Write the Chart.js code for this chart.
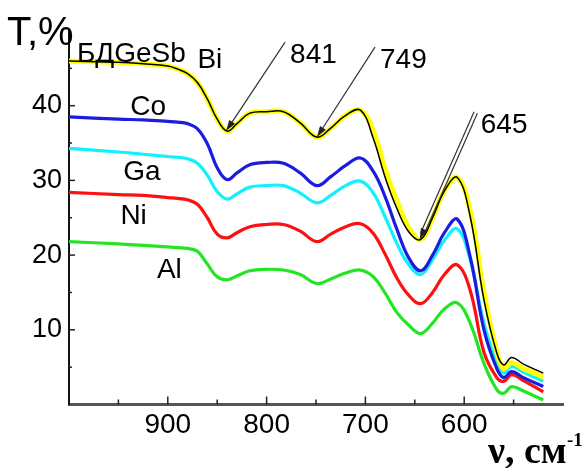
<!DOCTYPE html>
<html>
<head>
<meta charset="utf-8">
<script src="https://cdn.jsdelivr.net/npm/chart.js@4"></script>
<style>
  body { margin: 0; background: #fff; }
  #ir { display: block; }
</style>
</head>
<body>
<canvas id="ir" width="585" height="468"></canvas>
<script>
// IR spectra, transmission vs wavenumber
const wavenumbers = [1000, 950, 925, 900, 890, 880, 870, 860, 850, 840, 830, 817, 800, 783, 766, 749, 735, 720, 705, 692, 680, 668, 656, 644, 632, 620, 607, 594, 580, 567, 560, 552, 540, 520];

const bdgesb = [46.0, 45.8, 45.6, 45.3, 44.9, 44.3, 43.1, 40.9, 38.2, 36.6, 37.6, 39.0, 39.2, 39.2, 37.7, 35.8, 37.0, 38.7, 39.4, 35.6, 30.4, 26.2, 23.1, 22.1, 25.0, 28.6, 30.4, 25.2, 14.0, 6.9, 5.3, 6.3, 5.4, 4.2];
const bi     = [46.0, 45.8, 45.6, 45.3, 44.9, 44.3, 43.1, 40.9, 38.2, 36.6, 37.6, 39.0, 39.2, 39.2, 37.7, 35.8, 37.0, 38.7, 39.4, 36.6, 31.5, 27.2, 23.7, 22.1, 25.0, 28.6, 30.4, 26.0, 15.0, 7.0, 4.8, 5.6, 4.8, 3.7];
const co     = [38.5, 38.2, 38.1, 37.9, 37.8, 37.6, 36.9, 34.9, 31.7, 30.1, 31.0, 32.1, 32.4, 32.3, 31.0, 29.3, 30.5, 32.0, 33.0, 31.2, 27.8, 23.4, 19.6, 17.9, 20.0, 23.0, 24.8, 19.8, 10.0, 4.8, 3.6, 4.4, 3.6, 2.4];
const ga     = [34.3, 33.8, 33.5, 33.2, 33.1, 32.9, 32.3, 30.7, 28.5, 27.5, 28.2, 29.1, 29.3, 29.3, 28.3, 27.0, 28.0, 29.3, 29.9, 28.3, 25.1, 21.5, 18.7, 17.4, 19.4, 22.0, 23.5, 19.4, 10.9, 5.5, 4.2, 5.1, 4.3, 3.1];
const ni     = [28.4, 28.1, 28.0, 27.7, 27.6, 27.4, 26.8, 25.0, 22.8, 22.3, 23.0, 23.8, 24.1, 24.1, 23.2, 21.8, 22.8, 23.8, 24.2, 22.9, 20.1, 16.9, 14.6, 13.5, 15.0, 17.4, 18.7, 15.3, 7.0, 3.6, 3.1, 4.0, 3.2, 1.7];
const al     = [21.8, 21.5, 21.3, 21.1, 21.0, 20.9, 20.5, 18.8, 17.1, 16.7, 17.2, 17.9, 18.1, 18.0, 17.4, 16.2, 16.8, 17.6, 18.0, 17.1, 14.9, 12.3, 10.6, 9.5, 10.9, 12.8, 13.6, 10.9, 5.5, 2.0, 1.5, 2.4, 1.8, 0.6];

// marked absorption bands (on the top curve)
const bandWn = [841, 749, 645];
const bandT = [36.6, 35.8, 22.1];

const xTicks = [900, 800, 700, 600];
const yTicks = [10, 20, 30, 40];

function hasFont(name) {
    var c = document.createElement("canvas").getContext("2d");
    c.font = "40px monospace";
    var a = c.measureText("900 841 BDGe").width;
    c.font = '40px "' + name + '", monospace';
    return c.measureText("900 841 BDGe").width !== a;
}
var narrow = hasFont("Liberation Sans Narrow");
var numFont = narrow ? { family: "'Liberation Sans Narrow'", size: 33 } : { family: "'Liberation Sans', Arial", size: 28 };

function pts(vals) {
    return wavenumbers.map(function (w, i) { return { x: w, y: vals[i] }; });
}

function ds(label, vals, color, width, order) {
    return {
        label: label,
        data: pts(vals),
        borderColor: color,
        borderWidth: width,
        pointRadius: 0,
        fill: false,
        tension: 0.4,
        order: order
    };
}

// text, arrows and inward ticks
const decor = {
    id: "decor",
    afterDraw: function (chart) {
        var ctx = chart.ctx;
        var xs = chart.scales.x, ys = chart.scales.y;
        var area = chart.chartArea;
        ctx.save();

        // inward ticks
        ctx.strokeStyle = "#222";
        ctx.lineWidth = 1.5;
        for (var w = 950; w >= 550; w -= 50) {
            var px = xs.getPixelForValue(w);
            ctx.beginPath();
            ctx.moveTo(px, area.bottom);
            ctx.lineTo(px, area.bottom - (w % 100 === 0 ? 8 : 5));
            ctx.stroke();
        }
        for (var t = 5; t <= 45; t += 5) {
            var py = ys.getPixelForValue(t);
            ctx.beginPath();
            ctx.moveTo(area.left, py);
            ctx.lineTo(area.left + (t % 10 === 0 ? 6 : 3), py);
            ctx.stroke();
        }

        // series names
        ctx.fillStyle = "#000";
        ctx.textBaseline = "alphabetic";
        ctx.textAlign = "left";
        var names = [
            ["БДGeSb", 992, 45.9, 28],
            ["Bi", 870, 45.1, 28],
            ["Co", 938, 38.8, 28],
            ["Ga", 945, 30.1, 28],
            ["Ni", 948, 24.1, 28],
            ["Al", 911, 17.0, 28]
        ];
        names.forEach(function (n) {
            ctx.font = n[3] + "px 'Liberation Sans', Arial";
            ctx.fillText(n[0], xs.getPixelForValue(n[1]), ys.getPixelForValue(n[2]));
        });

        // band arrows
        var tails = [[59, -89], [58, -90], [56, -127]];
        bandWn.forEach(function (w, i) {
            var tx = xs.getPixelForValue(w), ty = ys.getPixelForValue(bandT[i]);
            var sx = tx + tails[i][0], sy = ty + tails[i][1];
            var ang = Math.atan2(ty - sy, tx - sx);
            ctx.strokeStyle = "#333";
            ctx.lineWidth = 1.2;
            var offs = i === 2 ? [-1.8, 1.8] : [0];
            offs.forEach(function (o) {
                var ox = -Math.sin(ang) * o, oy = Math.cos(ang) * o;
                ctx.beginPath();
                ctx.moveTo(sx + ox, sy + oy);
                ctx.lineTo(tx + ox - Math.cos(ang) * 6, ty + oy - Math.sin(ang) * 6);
                ctx.stroke();
            });
            ctx.fillStyle = "#222";
            ctx.beginPath();
            ctx.moveTo(tx, ty);
            ctx.lineTo(tx - Math.cos(ang) * 11 - Math.sin(ang) * 3.5, ty - Math.sin(ang) * 11 + Math.cos(ang) * 3.5);
            ctx.lineTo(tx - Math.cos(ang) * 11 + Math.sin(ang) * 3.5, ty - Math.sin(ang) * 11 - Math.cos(ang) * 3.5);
            ctx.closePath();
            ctx.fill();
            ctx.fillStyle = "#000";
            ctx.font = numFont.size + "px " + numFont.family;
            ctx.fillText(String(w), sx + 5, sy + 21);
        });

        // axis titles
        ctx.font = "40px 'Liberation Sans', Arial";
        ctx.fillText("T,%", 7, 45);
        ctx.font = "bold 38px 'Liberation Serif', 'Times New Roman'";
        ctx.fillText("ν, см", 488, 463);
        ctx.font = "bold 19px 'Liberation Serif', 'Times New Roman'";
        ctx.fillText("-1", 567, 446);

        ctx.restore();
    }
};

document.addEventListener("DOMContentLoaded", () => {
    var ctx = document.getElementById("ir").getContext("2d");

    new Chart(ctx, {
        type: "line",
        data: {
            datasets: [
                ds("БДGeSb", bdgesb, "#000000", 1.5, 0),
                ds("Bi", bi, "#ffff00", 5, 1),
                ds("Co", co, "#1c1ce0", 3.2, 2),
                ds("Ga", ga, "#10f0ff", 3.2, 3),
                ds("Ni", ni, "#ff1010", 3.2, 4),
                ds("Al", al, "#22e622", 3.2, 5)
            ]
        },
        options: {
            responsive: false,
            animation: false,
            layout: { padding: { top: 31, right: 22, left: 0, bottom: 0 } },
            plugins: {
                legend: { display: false },
                tooltip: { enabled: false }
            },
            scales: {
                x: {
                    type: "linear",
                    reverse: true,
                    min: 500,
                    max: 1000,
                    grid: { display: false, drawTicks: false },
                    border: { display: true, color: "#555", width: 3 },
                    afterBuildTicks: function (s) {
                        s.ticks = xTicks.map(function (v) { return { value: v }; });
                    },
                    ticks: {
                        autoSkip: false,
                        maxRotation: 0,
                        padding: 4,
                        color: "#000",
                        font: numFont
                    },
                    afterFit: function (s) { s.height = 63.5; }
                },
                y: {
                    min: 0,
                    max: 50,
                    grid: { display: false, drawTicks: false },
                    border: { display: true, color: "#111", width: 2 },
                    afterBuildTicks: function (s) {
                        s.ticks = yTicks.map(function (v) { return { value: v }; });
                    },
                    ticks: {
                        padding: 7,
                        color: "#000",
                        font: { family: "'Liberation Sans', Arial", size: 27 }
                    },
                    afterFit: function (s) { s.width = 69; }
                }
            }
        },
        plugins: [decor]
    });
});
</script>
</body>
</html>
